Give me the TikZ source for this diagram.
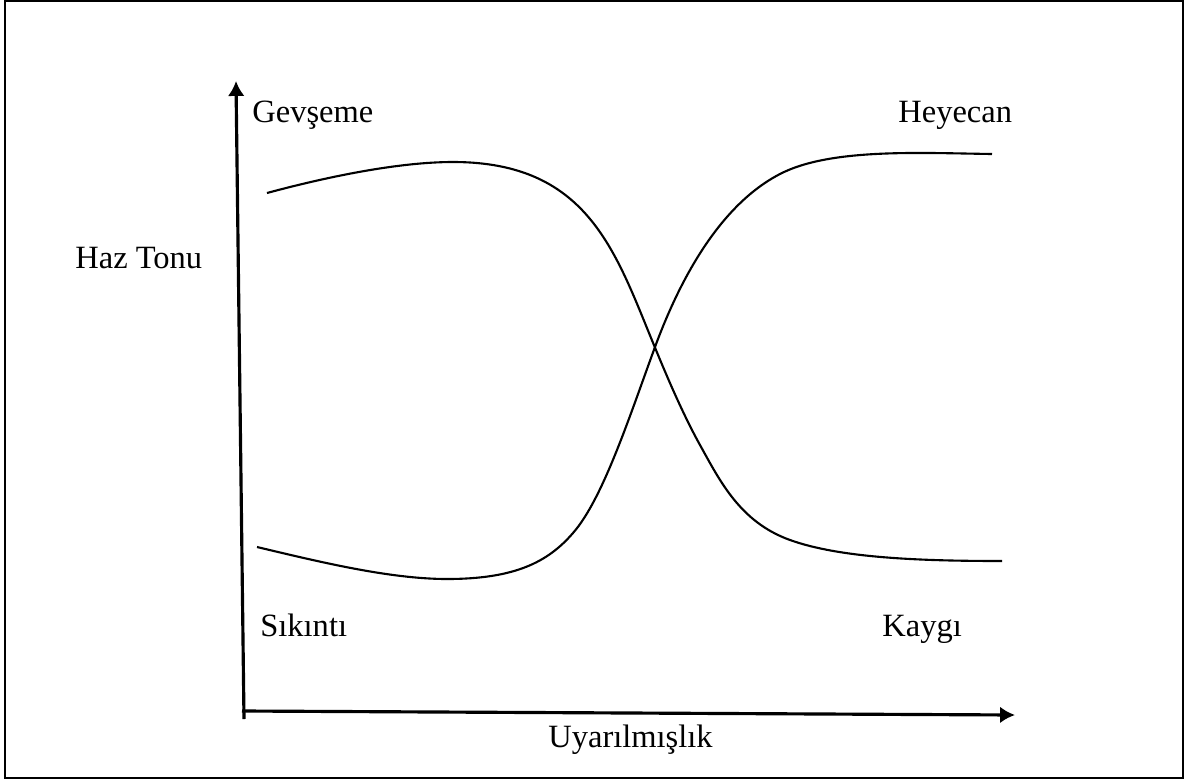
\documentclass[tikz,border=0pt]{standalone}
\usepackage{fontspec}
\setmainfont{Liberation Serif}
\usetikzlibrary{arrows.meta}
\begin{document}
\begin{tikzpicture}[x=0.02cm, y=-0.02cm, >={Latex[length=8.5pt,width=9.5pt]},
    etiket/.style={anchor=base west, inner sep=0pt, font=\fontsize{18.5}{22}\selectfont},
    egri/.style={line width=1.2pt}]
    \useasboundingbox (0,0) rectangle (1188,782);
    % Çerçeve
    \draw[line width=1.2pt] (5,1) rectangle (1183,778);

    % Eksenler
    \draw[->, line width=1.8pt] (244,719) -- (236,81);
    \draw[->, line width=1.8pt] (242,711) -- (1015,715);
    \node[etiket] (haz) at (75,268) {Haz Tonu};
    \node[etiket] (uyar) at (548,747) {Uyarılmışlık};

    % Köşe etiketleri
    \node[etiket] (gevseme) at (252,122) {Gevşeme};
    \node[etiket] (heyecan) at (898,122) {Heyecan};
    \node[etiket] (sikinti) at (260,636) {Sıkıntı};
    \node[etiket] (kaygi) at (882,636) {Kaygı};

    % Eğriler
    \draw[egri] (267,193) .. controls (330,176) and (400,162) .. (453,162)
        .. controls (590,162) and (616,254) .. (656,350)
        .. controls (670,384) and (685,418) .. (700,445)
        .. controls (720,481) and (740,522) .. (790,540)
        .. controls (840,558) and (920,561) .. (1002,561);
    \draw[egri] (257,547) .. controls (320,562) and (390,579) .. (447,579)
        .. controls (515,579) and (548,562) .. (573,533)
        .. controls (603,499) and (630,415) .. (655,347)
        .. controls (680,279) and (720,205) .. (780,174)
        .. controls (830,148) and (920,153) .. (992,154);
\end{tikzpicture}
\end{document}
